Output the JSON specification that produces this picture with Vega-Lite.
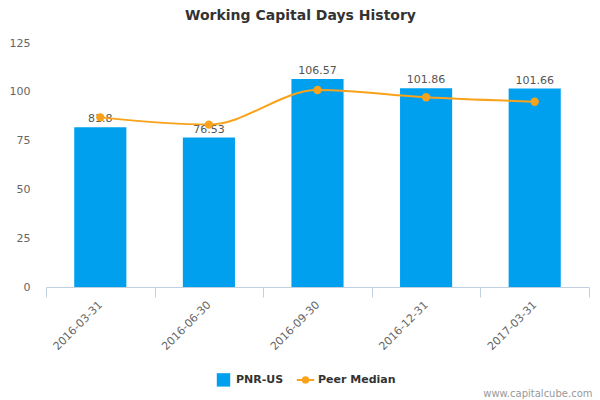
{
  "$schema": "https://vega.github.io/schema/vega-lite/v6.json",
  "width": 543,
  "height": 244,
  "autosize": {"type": "none"},
  "padding": {"left": 46, "top": 43, "right": 11, "bottom": 113},
  "title": {
    "text": "Working Capital Days History",
    "font": "DejaVu Sans",
    "fontSize": 14,
    "fontWeight": "bold",
    "color": "#333333",
    "anchor": "middle",
    "dx": -17,
    "offset": 14
  },
  "data": {
    "values": [
      {"date": "2016-03-31", "series": "PNR-US", "value": 81.8},
      {"date": "2016-06-30", "series": "PNR-US", "value": 76.53},
      {"date": "2016-09-30", "series": "PNR-US", "value": 106.57},
      {"date": "2016-12-31", "series": "PNR-US", "value": 101.86},
      {"date": "2017-03-31", "series": "PNR-US", "value": 101.66},
      {"date": "2016-03-31", "series": "Peer Median", "value": 86.9},
      {"date": "2016-06-30", "series": "Peer Median", "value": 83.2},
      {"date": "2016-09-30", "series": "Peer Median", "value": 100.9},
      {"date": "2016-12-31", "series": "Peer Median", "value": 97.2},
      {"date": "2017-03-31", "series": "Peer Median", "value": 94.9}
    ]
  },
  "encoding": {
    "x": {
      "field": "date",
      "type": "nominal",
      "sort": null,
      "scale": {"paddingInner": 0, "paddingOuter": 0},
      "axis": {
        "title": "www.capitalcube.com",
        "titleFont": "DejaVu Sans",
        "titleFontSize": 10,
        "titleFontWeight": "normal",
        "titleColor": "#999999",
        "titleAnchor": "end",
        "titleAlign": "right",
        "titleBaseline": "middle",
        "titleX": 546,
        "titleY": 106,
        "labelAngle": -45,
        "labelAlign": "right",
        "labelBaseline": "middle",
        "labelFont": "DejaVu Sans",
        "labelFontSize": 11,
        "labelColor": "#666666",
        "labelPadding": 6,
        "tickBand": "extent",
        "tickSize": 10,
        "tickColor": "#C0D0E0",
        "domainColor": "#C0D0E0",
        "grid": false
      }
    },
    "y": {
      "field": "value",
      "type": "quantitative",
      "scale": {"domain": [0, 125]},
      "axis": {
        "title": null,
        "values": [0, 25, 50, 75, 100, 125],
        "domain": false,
        "ticks": false,
        "grid": false,
        "labelFont": "DejaVu Sans",
        "labelFontSize": 11,
        "labelColor": "#666666",
        "labelPadding": 16
      }
    },
    "color": {
      "field": "series",
      "type": "nominal",
      "scale": {"domain": ["PNR-US", "Peer Median"], "range": ["#00A0EF", "#F9A21B"]},
      "legend": {
        "title": null,
        "orient": "none",
        "legendX": 172,
        "legendY": 331,
        "direction": "horizontal",
        "labelFont": "DejaVu Sans",
        "labelFontSize": 11,
        "labelFontWeight": "bold",
        "labelColor": "#333333",
        "labelOffset": 7,
        "columnPadding": 8,
        "symbolSize": 180,
        "encode": {
          "symbols": {
            "update": {
              "shape": {"signal": "datum.value === 'PNR-US' ? 'square' : 'M -1.3 0 L 1.3 0 M -0.4 0 A 0.4 0.4 0 1 0 0.4 0 A 0.4 0.4 0 1 0 -0.4 0 Z'"},
              "strokeWidth": {"signal": "datum.value === 'PNR-US' ? 0 : 2"}
            }
          }
        }
      }
    }
  },
  "layer": [
    {
      "transform": [{"filter": "datum.series === 'PNR-US'"}],
      "mark": {"type": "bar", "width": {"band": 0.48}}
    },
    {
      "transform": [{"filter": "datum.series === 'PNR-US'"}],
      "mark": {"type": "text", "dy": -8, "font": "DejaVu Sans", "fontSize": 11, "color": "#555555"},
      "encoding": {
        "text": {"field": "value", "type": "quantitative"},
        "color": {"value": "#555555"}
      }
    },
    {
      "transform": [{"filter": "datum.series === 'Peer Median'"}],
      "mark": {"type": "line", "interpolate": "monotone", "strokeWidth": 2, "point": {"filled": true, "size": 70}}
    }
  ],
  "config": {"view": {"stroke": null}, "background": "white"}
}
